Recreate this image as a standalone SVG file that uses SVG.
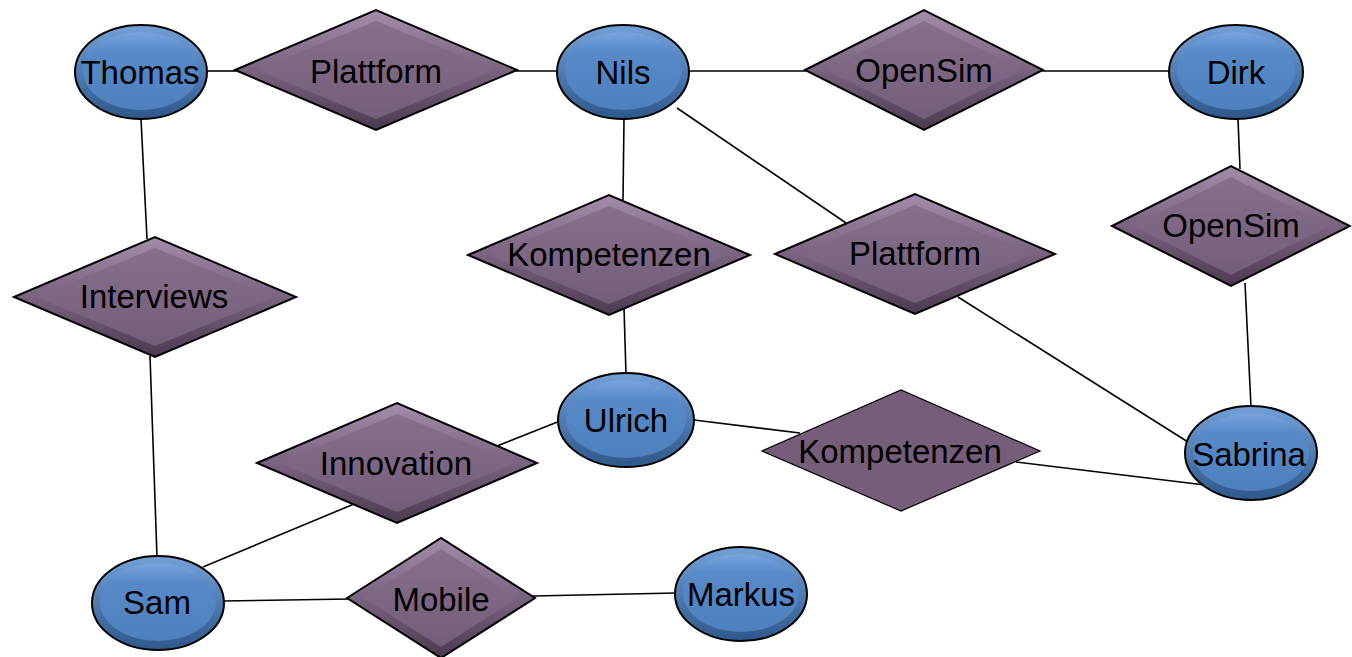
<svg xmlns="http://www.w3.org/2000/svg" width="1352" height="657" viewBox="0 0 1352 657">
<defs>
<linearGradient id="eg" x1="0" y1="0" x2="0" y2="1">
<stop offset="0" stop-color="#74a0d8"/>
<stop offset="1" stop-color="#2e578a"/>
</linearGradient>
<linearGradient id="eig" x1="0" y1="0" x2="0" y2="1">
<stop offset="0" stop-color="#78a5de"/>
<stop offset="0.25" stop-color="#5889c8"/>
<stop offset="1" stop-color="#4e80be"/>
</linearGradient>
<linearGradient id="dg" x1="0" y1="0" x2="0" y2="1">
<stop offset="0" stop-color="#a38daa"/>
<stop offset="0.5" stop-color="#7a6380"/>
<stop offset="1" stop-color="#4a3a4f"/>
</linearGradient>
<linearGradient id="dig" x1="0" y1="0" x2="0" y2="1">
<stop offset="0" stop-color="#86708c"/>
<stop offset="1" stop-color="#745d7b"/>
</linearGradient>
</defs>
<style>
.conn line{stroke:#000;stroke-width:1.6;fill:none}
.eo{fill:url(#eg);stroke:#000;stroke-width:2}
.ei{fill:url(#eig);stroke:none}
.do{fill:url(#dg);stroke:#000;stroke-width:2}
.di{fill:url(#dig);stroke:none}
.flat{fill:#765d7a;stroke:#000;stroke-width:1.2}
text{font-family:"Liberation Sans",Arial,sans-serif;font-size:33px;fill:#000;text-anchor:middle}
</style>
<rect width="1352" height="657" fill="#fff"/>
<g class="conn" id="connectors">
<line x1="207" y1="71" x2="236" y2="71"/>
<line x1="516" y1="71" x2="558" y2="71"/>
<line x1="689" y1="71" x2="806" y2="71"/>
<line x1="1042" y1="71" x2="1170" y2="71"/>
<line x1="141" y1="119" x2="147" y2="239"/>
<line x1="150" y1="356" x2="157" y2="557"/>
<line x1="624" y1="119" x2="623" y2="200"/>
<line x1="624" y1="308" x2="626" y2="374"/>
<line x1="677" y1="108" x2="846" y2="223"/>
<line x1="958" y1="297" x2="1188" y2="442"/>
<line x1="1238" y1="119" x2="1240" y2="169"/>
<line x1="1245" y1="283" x2="1251" y2="407"/>
<line x1="694" y1="420" x2="800" y2="433"/>
<line x1="1016" y1="462" x2="1205" y2="485"/>
<line x1="560" y1="421" x2="497" y2="446"/>
<line x1="354" y1="504" x2="203" y2="567"/>
<line x1="224" y1="601" x2="350" y2="599"/>
<line x1="533" y1="596" x2="676" y2="593"/>
</g>
<g id="thomas">
<ellipse class="eo" cx="141" cy="72" rx="66" ry="47"/>
<ellipse class="ei" cx="141" cy="71" rx="58" ry="39"/>
<text x="140" y="84">Thomas</text>
</g>
<g id="plattform1">
<polygon class="do" points="235,70 376,10 517,70 376,130"/>
<polygon class="di" points="257,70 376,21 495,70 376,119"/>
<text x="376" y="83">Plattform</text>
</g>
<g id="nils">
<ellipse class="eo" cx="623" cy="72" rx="66" ry="47"/>
<ellipse class="ei" cx="623" cy="71" rx="58" ry="39"/>
<text x="623" y="84">Nils</text>
</g>
<g id="opensim1">
<polygon class="do" points="805,70 924,10 1043,70 924,130"/>
<polygon class="di" points="826,70 924,21 1022,70 924,119"/>
<text x="924" y="82">OpenSim</text>
</g>
<g id="dirk">
<ellipse class="eo" cx="1236" cy="72" rx="67" ry="47"/>
<ellipse class="ei" cx="1236" cy="71" rx="59" ry="39"/>
<text x="1236" y="84">Dirk</text>
</g>
<g id="opensim2">
<polygon class="do" points="1112,226 1231,166 1350,226 1231,286"/>
<polygon class="di" points="1133,226 1231,177 1329,226 1231,275"/>
<text x="1231" y="237">OpenSim</text>
</g>
<g id="interviews">
<polygon class="do" points="14,297 155,237 296,297 155,357"/>
<polygon class="di" points="36,297 155,248 274,297 155,346"/>
<text x="154" y="308">Interviews</text>
</g>
<g id="kompetenzen1">
<polygon class="do" points="468,255 609,195 750,255 609,315"/>
<polygon class="di" points="490,255 609,206 728,255 609,304"/>
<text x="609" y="266">Kompetenzen</text>
</g>
<g id="plattform2">
<polygon class="do" points="775,254 915,194 1055,254 915,314"/>
<polygon class="di" points="797,254 915,205 1033,254 915,303"/>
<text x="915" y="265">Plattform</text>
</g>
<g id="ulrich">
<ellipse class="eo" cx="626" cy="420" rx="68" ry="47"/>
<ellipse class="ei" cx="626" cy="419" rx="60" ry="39"/>
<text x="626" y="432">Ulrich</text>
</g>
<g id="innovation">
<polygon class="do" points="257,463 397,403 537,463 397,523"/>
<polygon class="di" points="279,463 397,414 515,463 397,512"/>
<text x="396" y="475">Innovation</text>
</g>
<g id="kompetenzen2">
<polygon class="flat" points="762,451 901,390 1040,451 901,511"/>
<text x="900" y="463">Kompetenzen</text>
</g>
<g id="sabrina">
<ellipse class="eo" cx="1251" cy="453" rx="66" ry="47"/>
<ellipse class="ei" cx="1251" cy="452" rx="58" ry="39"/>
<text x="1249" y="466">Sabrina</text>
</g>
<g id="sam">
<ellipse class="eo" cx="158" cy="603" rx="66" ry="47"/>
<ellipse class="ei" cx="158" cy="602" rx="58" ry="39"/>
<text x="157" y="614">Sam</text>
</g>
<g id="mobile">
<polygon class="do" points="347,598 441,538 535,598 441,658"/>
<polygon class="di" points="364,598 441,549 518,598 441,647"/>
<text x="441" y="611">Mobile</text>
</g>
<g id="markus">
<ellipse class="eo" cx="741" cy="594" rx="66" ry="47"/>
<ellipse class="ei" cx="741" cy="593" rx="58" ry="39"/>
<text x="741" y="606">Markus</text>
</g>
</svg>
